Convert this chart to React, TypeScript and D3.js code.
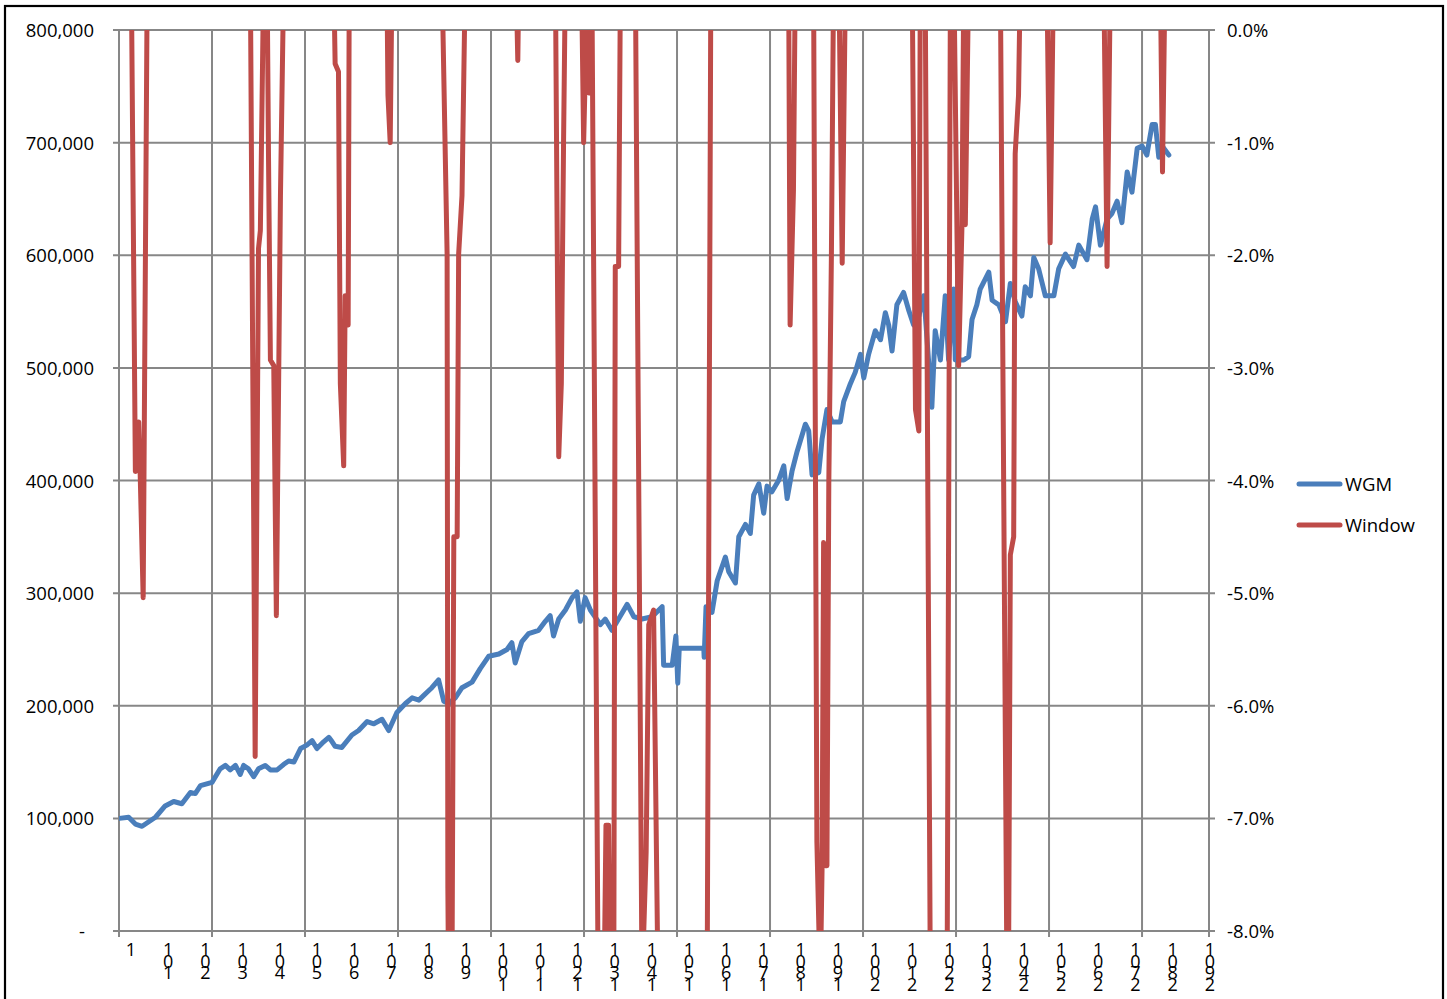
import { line, range, scaleLinear } from 'd3';

// WGM equity curve: [bar index, value in thousands]
const wgmIndex = [
  1, 26, 44, 62, 80, 98, 124, 147, 169, 192, 205, 219, 250, 272, 286, 299, 313, 326, 335, 348,
  362, 375, 393, 407, 425, 443, 456, 470, 488, 505, 519, 532, 550, 564, 573, 581, 599, 626, 644, 667,
  685, 707, 725, 747, 770, 788, 806, 828, 841, 859, 873, 886, 904, 922, 949, 971, 994, 1021, 1043, 1056,
  1065, 1083, 1101, 1128, 1146, 1159, 1168, 1182, 1200, 1218, 1231, 1240, 1253, 1267, 1294, 1307, 1325, 1348, 1366, 1384,
  1406, 1433, 1460, 1464, 1487, 1497, 1502, 1506, 1572, 1573, 1578, 1594, 1608, 1630, 1639, 1657, 1666, 1684, 1697, 1706,
  1720, 1733, 1742, 1755, 1773, 1787, 1796, 1809, 1823, 1845, 1854, 1863, 1881, 1890, 1903, 1917, 1939, 1948, 1966, 1979,
  1993, 2002, 2015, 2033, 2047, 2060, 2069, 2078, 2091, 2109, 2123, 2136, 2150, 2163, 2167, 2185, 2194, 2208, 2221, 2230,
  2244, 2248, 2271, 2284, 2293, 2306, 2315, 2338, 2347, 2365, 2383, 2396, 2409, 2427, 2436, 2450, 2459, 2472, 2490, 2513,
  2526, 2544, 2566, 2580, 2602, 2616, 2625, 2638, 2656, 2669, 2683, 2696, 2710, 2723, 2737, 2750, 2763, 2777, 2786, 2795,
  2804, 2822,
];
const wgmValue = [
  100, 101, 95, 93, 97, 101, 111, 115, 113, 123, 122, 129, 132, 144, 147, 143, 147, 139, 147, 144,
  137, 144, 147, 143, 143, 148, 151, 150, 162, 165, 169, 162, 168, 172, 168, 164, 163, 174, 178, 186,
  184, 188, 178, 194, 202, 207, 205, 212, 216, 223, 204, 202, 207, 216, 221, 233, 244, 246, 250, 256,
  238, 257, 264, 267, 275, 280, 262, 277, 285, 296, 301, 275, 296, 285, 272, 277, 267, 280, 290, 279,
  277, 279, 288, 236, 236, 262, 220, 251, 251, 243, 288, 283, 311, 332, 319, 309, 350, 361, 353, 387,
  397, 371, 395, 390, 400, 413, 384, 408, 426, 450, 444, 405, 407, 437, 463, 452, 452, 470, 486, 496,
  512, 491, 512, 533, 525, 549, 538, 515, 556, 567, 551, 538, 546, 564, 549, 465, 533, 507, 564, 507,
  570, 507, 507, 510, 543, 556, 570, 585, 560, 556, 541, 575, 559, 546, 572, 564, 598, 588, 564, 564,
  588, 601, 590, 609, 596, 632, 643, 609, 632, 637, 648, 629, 674, 656, 695, 697, 689, 716, 716, 687,
  697, 689,
];

// Window series: [bar index, percent]; 0.5 = above the axis top, -8.5 = below the axis floor
const windowIndex = [
  1, 33, 44, 53, 57, 65, 76, 353, 366, 375, 380, 389, 398, 402, 407, 416, 423, 434, 443, 577,
  581, 590, 595, 604, 608, 616, 619, 720, 723, 729, 734, 868, 882, 884, 886, 895, 900, 909, 913, 922,
  931, 1067, 1072, 1075, 1173, 1182, 1189, 1195, 1200, 1243, 1249, 1253, 1258, 1263, 1267, 1271, 1288, 1304, 1309, 1316,
  1321, 1330, 1334, 1343, 1348, 1388, 1406, 1417, 1424, 1437, 1449, 1581, 1591, 1800, 1804, 1813, 1818, 1867, 1876, 1885,
  1890, 1894, 1899, 1903, 1908, 1915, 1921, 1935, 1944, 1953, 2132, 2141, 2150, 2154, 2167, 2181, 2226, 2235, 2244, 2257,
  2266, 2271, 2275, 2284, 2369, 2387, 2391, 2396, 2405, 2409, 2418, 2423, 2494, 2503, 2512, 2647, 2656, 2665, 2799, 2805,
  2812, 2822,
];
const windowValue = [
  0.5, 0.5, -3.92, -3.48, -3.95, -5.04, 0.5, 0.5, -6.45, -1.94, -1.78, 0.5, 0.5, -1.16, -2.93, -2.98, -5.2, -1.47, 0.5, 0.5,
  -0.3, -0.37, -3.14, -3.87, -2.36, -2.62, 0.5, 0.5, -0.58, -1.0, 0.5, 0.5, -1.99, -7.62, -8.5, -8.5, -4.5, -4.5, -1.99, -1.47,
  0.5, 0.5, -0.27, 0.5, 0.5, -3.79, -3.14, -1.0, 0.5, 0.5, -1.0, -0.43, 0.5, -0.56, 0.5, 0.5, -8.5, -8.5, -7.06, -7.06,
  -8.5, -8.5, -2.1, -2.1, 0.5, 0.5, -8.5, -7.3, -5.28, -5.15, -8.5, -8.5, 0.5, 0.5, -2.62, -1.42, 0.5, 0.5, -7.21, -8.5,
  -7.42, -4.55, -7.42, -7.42, -4.03, -2.0, 0.5, 0.5, -2.07, 0.5, 0.5, -3.37, -3.56, 0.5, 0.5, -8.5, -8.5, 0.5, 0.5, -2.98,
  -1.73, 0.5, -1.73, 0.5, 0.5, -8.5, -8.5, -4.66, -4.5, -1.1, -0.58, 0.5, 0.5, -1.89, 0.5, 0.5, -2.1, 0.5, 0.5, -1.26,
  0.5, 0.5,
];

const leftTicks = [0, 100000, 200000, 300000, 400000, 500000, 600000, 700000, 800000];
const rightTicks = [0, -1, -2, -3, -4, -5, -6, -7, -8];
const categoryCount = 2930;
const gridStep = 250;
const labelStep = 100;

const width = 1447;
const height = 999;
const plot = { left: 119, right: 1209, top: 30, bottom: 931 };
const gridColor = '#878787';
const blue = '#4a7ebb';
const red = '#be4b48';
const font = '"Open Sans", "DejaVu Sans", sans-serif';

export default function App() {
  const x = scaleLinear().domain([0, categoryCount]).range([plot.left, plot.right]);
  const yLeft = scaleLinear().domain([0, 800000]).range([plot.bottom, plot.top]);
  const yRight = scaleLinear().domain([-8, 0]).range([plot.bottom, plot.top]);

  const wgm = wgmIndex.map((c, i) => [c, wgmValue[i] * 1000] as [number, number]);
  const win = windowIndex.map((c, i) => [c, windowValue[i]] as [number, number]);

  const wgmPath = line<[number, number]>().x(d => x(d[0])).y(d => yLeft(d[1]))(wgm) ?? '';
  const winPath = line<[number, number]>().x(d => x(d[0])).y(d => yRight(d[1]))(win) ?? '';

  const gridX = [...range(0, categoryCount, gridStep), categoryCount];
  const labels = range(0, categoryCount, labelStep);

  return (
    <div style={{ position: 'absolute', left: 0, top: 0, background: '#fff' }}>
      <svg width={width} height={height} viewBox={`0 0 ${width} ${height}`} style={{ display: 'block' }}>
        <rect x={0} y={0} width={width} height={height} fill="#fff" />
        <rect x={5} y={6} width={1438} height={1010} fill="none" stroke="#000" strokeWidth={2.2} />
        <defs>
          <clipPath id="plot-clip">
            <rect x={plot.left} y={plot.top} width={plot.right - plot.left} height={plot.bottom - plot.top} />
          </clipPath>
        </defs>

        {leftTicks.map(t => (
          <g key={t}>
            <line x1={plot.left - 6} x2={plot.right + 6} y1={yLeft(t)} y2={yLeft(t)} stroke={gridColor} strokeWidth={2} />
            <text x={94} y={yLeft(t) + 7} textAnchor="end" fontFamily={font} fontSize={18.5} fill="#000">
              {t === 0 ? '' : t.toLocaleString('en-US')}
            </text>
          </g>
        ))}
        <text x={79} y={yLeft(0) + 7} fontFamily={font} fontSize={18.5} fill="#000">-</text>

        {rightTicks.map(t => (
          <text key={t} x={1227} y={yRight(t) + 7} fontFamily={font} fontSize={18.5} fill="#000">
            {`${t === 0 ? '' : '-'}${Math.abs(t).toFixed(1)}%`}
          </text>
        ))}

        {gridX.map(c => (
          <line key={c} x1={x(c)} x2={x(c)} y1={plot.top} y2={plot.bottom + 6} stroke={gridColor} strokeWidth={2} />
        ))}

        {labels.map(c => {
          // stacked label, read from the bottom character upward
          const chars = String(c + 1).split('').reverse();
          return (
            <text key={c} x={x(c) + 12} y={956} textAnchor="middle" fontFamily={font} fontSize={18} fill="#000">
              {chars.map((ch, i) => (
                <tspan key={i} x={x(c) + 12} dy={i === 0 ? 0 : 11.6}>{ch}</tspan>
              ))}
            </text>
          );
        })}

        <g clipPath="url(#plot-clip)" fill="none" strokeLinejoin="round" strokeLinecap="round">
          <path d={wgmPath} stroke={blue} strokeWidth={5} />
          <path d={winPath} stroke={red} strokeWidth={5} />
        </g>

        <g fontFamily={font} fontSize={18.5} fill="#000">
          <line x1={1299} x2={1340} y1={484} y2={484} stroke={blue} strokeWidth={5} strokeLinecap="round" />
          <text x={1345} y={490.5}>WGM</text>
          <line x1={1299} x2={1340} y1={525} y2={525} stroke={red} strokeWidth={5} strokeLinecap="round" />
          <text x={1345} y={531.5}>Window</text>
        </g>
      </svg>
    </div>
  );
}
